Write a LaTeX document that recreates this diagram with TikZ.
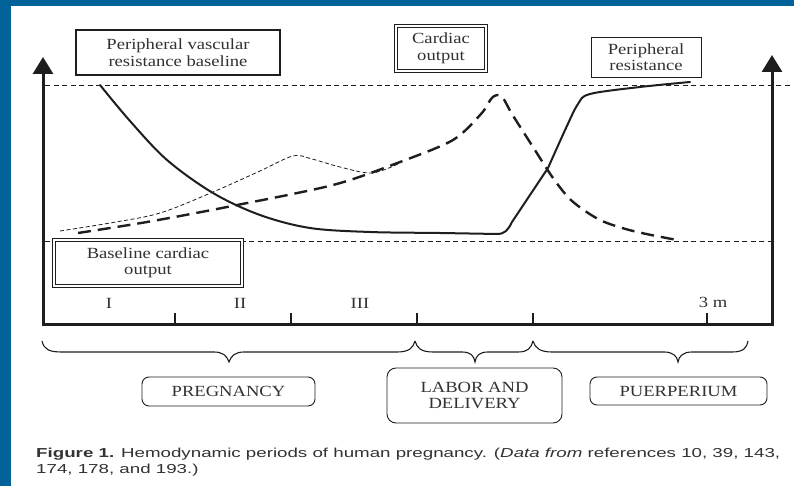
\documentclass[tikz,border=0pt]{standalone}
\usepackage{fontspec}
\setmainfont[FakeStretch=1.2]{Liberation Serif}
\newfontfamily\capfont[FakeStretch=1.44]{Liberation Sans}
\usetikzlibrary{arrows.meta}
\definecolor{frameblue}{RGB}{0,98,152}
\definecolor{ink}{RGB}{30,30,30}
\definecolor{txt}{RGB}{50,50,50}
\begin{document}
\begin{tikzpicture}[x=1pt,y=-1pt,
  lbl/.style={font=\fontsize{15.5}{16.5}\selectfont, text=txt, align=center, inner sep=0pt},
  boxthick/.style={lbl, draw=ink, line width=1.8pt, fill=white},
  boxthin/.style={lbl, draw=ink, line width=0.8pt, fill=white},
  boxdouble/.style={lbl, draw=ink, line width=0.9pt, double=white, double distance=1.6pt, fill=white},
  phase/.style={lbl, draw=ink, line width=0.9pt, rounded corners=7pt, fill=white},
  axis/.style={draw=ink, line width=3pt, line join=miter},
  guide/.style={draw=ink, line width=0.7pt, dash pattern=on 5pt off 3.5pt},
  tick/.style={draw=ink, line width=1.2pt},
  brace/.style={draw=ink, line width=1.1pt},
  resist/.style={draw=ink, line width=2pt, line cap=round, line join=round},
  output/.style={draw=ink, line width=2.4pt, dash pattern=on 13pt off 7pt},
  output2/.style={draw=ink, line width=0.8pt, dash pattern=on 4pt off 2.5pt},
  caption/.style={font=\capfont\fontsize{13}{15}\selectfont, text=txt, inner sep=0pt, anchor=base west}]

\useasboundingbox (0,0) rectangle (794,486);
\fill[white] (0,0) rectangle (794,486);
% blue slide frame
\fill[frameblue] (0,0) rectangle (794,6);
\fill[frameblue] (0,0) rectangle (11,486);

% reference levels
\coordinate (hiL) at (45,85);
\coordinate (hiR) at (790,85);
\coordinate (loL) at (45,241);
\coordinate (loR) at (772,241);
\draw[guide] (hiL) -- (hiR);
\draw[guide] (loL) -- (loR);

% axes frame
\coordinate (tl) at (43,57);
\coordinate (bl) at (43,324);
\coordinate (br) at (772,324);
\coordinate (tr) at (772,55);
\draw[axis, {Triangle[width=20pt,length=17pt]}-{Triangle[width=20pt,length=17pt]}] (tl) -- (bl) -- (br) -- (tr);

% period ticks
\foreach \tx [count=\i] in {175,291,417,533,707} {
  \coordinate (t\i) at (\tx,324);
  \draw[tick] (t\i) -- ++(0,-11);
}
\node[lbl] (pI)   at (109,303) {I};
\node[lbl] (pII)  at (240,303) {II};
\node[lbl] (pIII) at (360,303) {III};
\node[lbl] (p3m)  at (713,302) {3 m};

% peripheral resistance
\draw[resist] plot[smooth, tension=0.55] coordinates {(100,85) (130,121) (167,160) (213,193) (260,215) (310,228) (370,232) (440,233) (497,234)}
  .. controls (505,234) and (508,230) .. (512,222) -- (548,168)
  plot[smooth, tension=0.55] coordinates {(548,168) (566,128) (578,104) (590,94) (640,87) (690,82)};

% cardiac output
\draw[output] plot[smooth, tension=0.5] coordinates {(78,233) (147,222) (227,207) (333,185) (400,162) (453,140) (481,114) (491,99) (497,95) (503,98) (512,114) (533,147) (553,178) (572,201) (600,220) (633,231) (677,240)};
\draw[output2] plot[smooth, tension=0.55] coordinates {(60,231) (110,223) (160,213) (213,192) (260,171) (293,156) (312,159) (340,167) (372,173) (400,163)};

% labels
\node[boxthick, minimum width=204pt, minimum height=45pt] (pvr) at (178,52.5) {Peripheral vascular\\resistance baseline};
\node[boxdouble, minimum width=90pt, minimum height=45pt] (co) at (441,48.5) {Cardiac\\output};
\node[boxthin, minimum width=110pt, minimum height=40pt] (pr) at (646,57) {Peripheral\\resistance};
\node[boxdouble, minimum width=188pt, minimum height=46pt] (bco) at (148,263) {Baseline cardiac\\output};

% braces
\coordinate (b0) at (42,341);
\coordinate (b1) at (415,341);
\coordinate (b2) at (533,341);
\coordinate (b3) at (748,341);
\draw[brace] (b0) .. controls (44,350) and (50,352) .. (62,352) -- (214,352)
  .. controls (223,352) and (227,356) .. (229,362)
  .. controls (231,356) and (235,352) .. (244,352) -- (397,352)
  .. controls (409,352) and (413,348) .. (b1);
\draw[brace] (b1) .. controls (417,348) and (421,352) .. (433,352) -- (462,352)
  .. controls (471,352) and (474,356) .. (475,362)
  .. controls (476,356) and (479,352) .. (488,352) -- (518,352)
  .. controls (528,352) and (531,348) .. (b2);
\draw[brace] (b2) .. controls (535,348) and (540,352) .. (552,352) -- (664,352)
  .. controls (673,352) and (677,356) .. (678,362)
  .. controls (679,356) and (683,352) .. (692,352) -- (732,352)
  .. controls (743,352) and (747,348) .. (b3);

\node[phase, minimum width=173pt, minimum height=29pt] (preg) at (228.5,391.5) {PREGNANCY};
\node[phase, minimum width=175pt, minimum height=55pt, rounded corners=9pt] (labor) at (474.5,395.5) {LABOR AND\\DELIVERY};
\node[phase, minimum width=177pt, minimum height=28pt] (puer) at (678.5,391) {PUERPERIUM};

% caption
\node[caption] (cap1) at (36,457) {\textbf{Figure 1.} Hemodynamic periods of human pregnancy. (\textit{Data from} references 10, 39, 143,};
\node[caption] (cap2) at (36,473) {174, 178, and 193.)};
\end{tikzpicture}
\end{document}
